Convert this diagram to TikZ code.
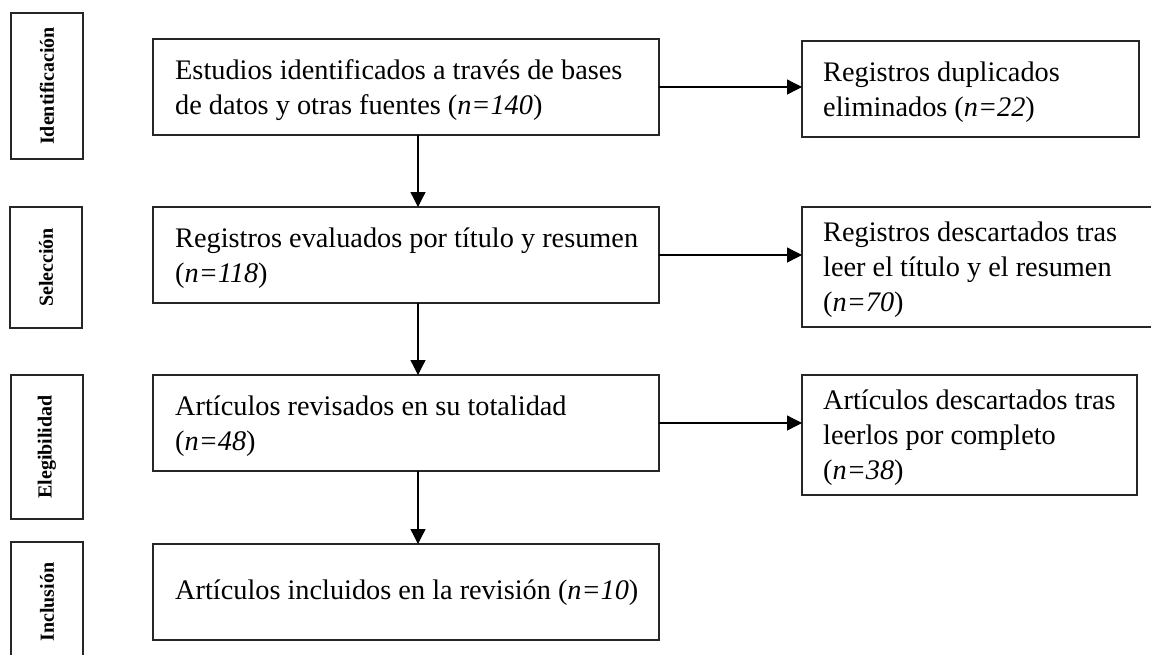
\documentclass[tikz,border=0pt]{standalone}
\usepackage{fontspec}
\setmainfont{Liberation Serif}
\usetikzlibrary{arrows.meta}
\begin{document}
\begin{tikzpicture}[x=1pt,y=-1pt,
  box/.style={draw=black!85, line width=1.3pt, rectangle, inner sep=0pt,
    outer sep=0pt, anchor=north west},
  txt/.style={inner sep=0pt, align=left, anchor=west,
    font=\fontsize{28.3}{35}\selectfont},
  lab/.style={draw=black!85, line width=1.3pt, rectangle, rotate=90, inner sep=0pt,
    outer sep=0pt, minimum height=72pt, font=\fontsize{20}{24}\selectfont\bfseries},
  arr/.style={line width=1.3pt, -{Triangle[length=15pt,width=15pt]}}]
\useasboundingbox (0,0) rectangle (1151,654);
\clip (0,0) rectangle (1151,654);
% phase labels
\node[lab, minimum width=146pt] (l1) at (47,86) {Identificación};
\node[lab, minimum width=121pt] (l2) at (46,267.5) {Selección};
\node[lab, minimum width=144pt] (l3) at (47,447) {Elegibilidad};
\node[lab, minimum width=120pt] (l4) at (47,602) {Inclusión};
% main column boxes
\node[box, minimum width=506pt, minimum height=96pt] (m1) at (153,39) {};
\node[box, minimum width=506pt, minimum height=96pt] (m2) at (153,207) {};
\node[box, minimum width=506pt, minimum height=96pt] (m3) at (153,375) {};
\node[box, minimum width=506pt, minimum height=96pt] (m4) at (153,544) {};
% right column boxes
\node[box, minimum width=337pt, minimum height=96pt] (r1) at (802,41) {};
\node[box, minimum width=360pt, minimum height=120pt] (r2) at (802,207) {};
\node[box, minimum width=335pt, minimum height=120pt] (r3) at (802,375) {};
% texts
\node[txt] (t1) at ([xshift=22pt,yshift=-3pt]m1.west)
  {Estudios identificados a través de bases\\de datos y otras fuentes (\textit{n=140})};
\node[txt] (t2) at ([xshift=22pt,yshift=-3pt]m2.west)
  {Registros evaluados por título y resumen\\(\textit{n=118})};
\node[txt] (t3) at ([xshift=22pt,yshift=-3pt]m3.west)
  {Artículos revisados en su totalidad\\(\textit{n=48})};
\node[txt] (t4) at ([xshift=22pt,yshift=-1pt]m4.west)
  {Artículos incluidos en la revisión (\textit{n=10})};
\node[txt] (u1) at ([xshift=21pt,yshift=-3pt]r1.west)
  {Registros duplicados\\eliminados (\textit{n=22})};
\node[txt] (u2) at ([xshift=21pt,yshift=-3pt]r2.west)
  {Registros descartados tras\\leer el título y el resumen\\(\textit{n=70})};
\node[txt] (u3) at ([xshift=21pt,yshift=-3pt]r3.west)
  {Artículos descartados tras\\leerlos por completo\\(\textit{n=38})};
% connectors
\coordinate (vx) at (418,0);
\draw[arr] (m1.south -| vx) -- (m2.north -| vx);
\draw[arr] (m2.south -| vx) -- (m3.north -| vx);
\draw[arr] (m3.south -| vx) -- (m4.north -| vx);
\draw[arr] (m1.east) -- (m1.east -| r1.west);
\draw[arr] (m2.east) -- (m2.east -| r2.west);
\draw[arr] (m3.east) -- (m3.east -| r3.west);
\end{tikzpicture}
\end{document}
